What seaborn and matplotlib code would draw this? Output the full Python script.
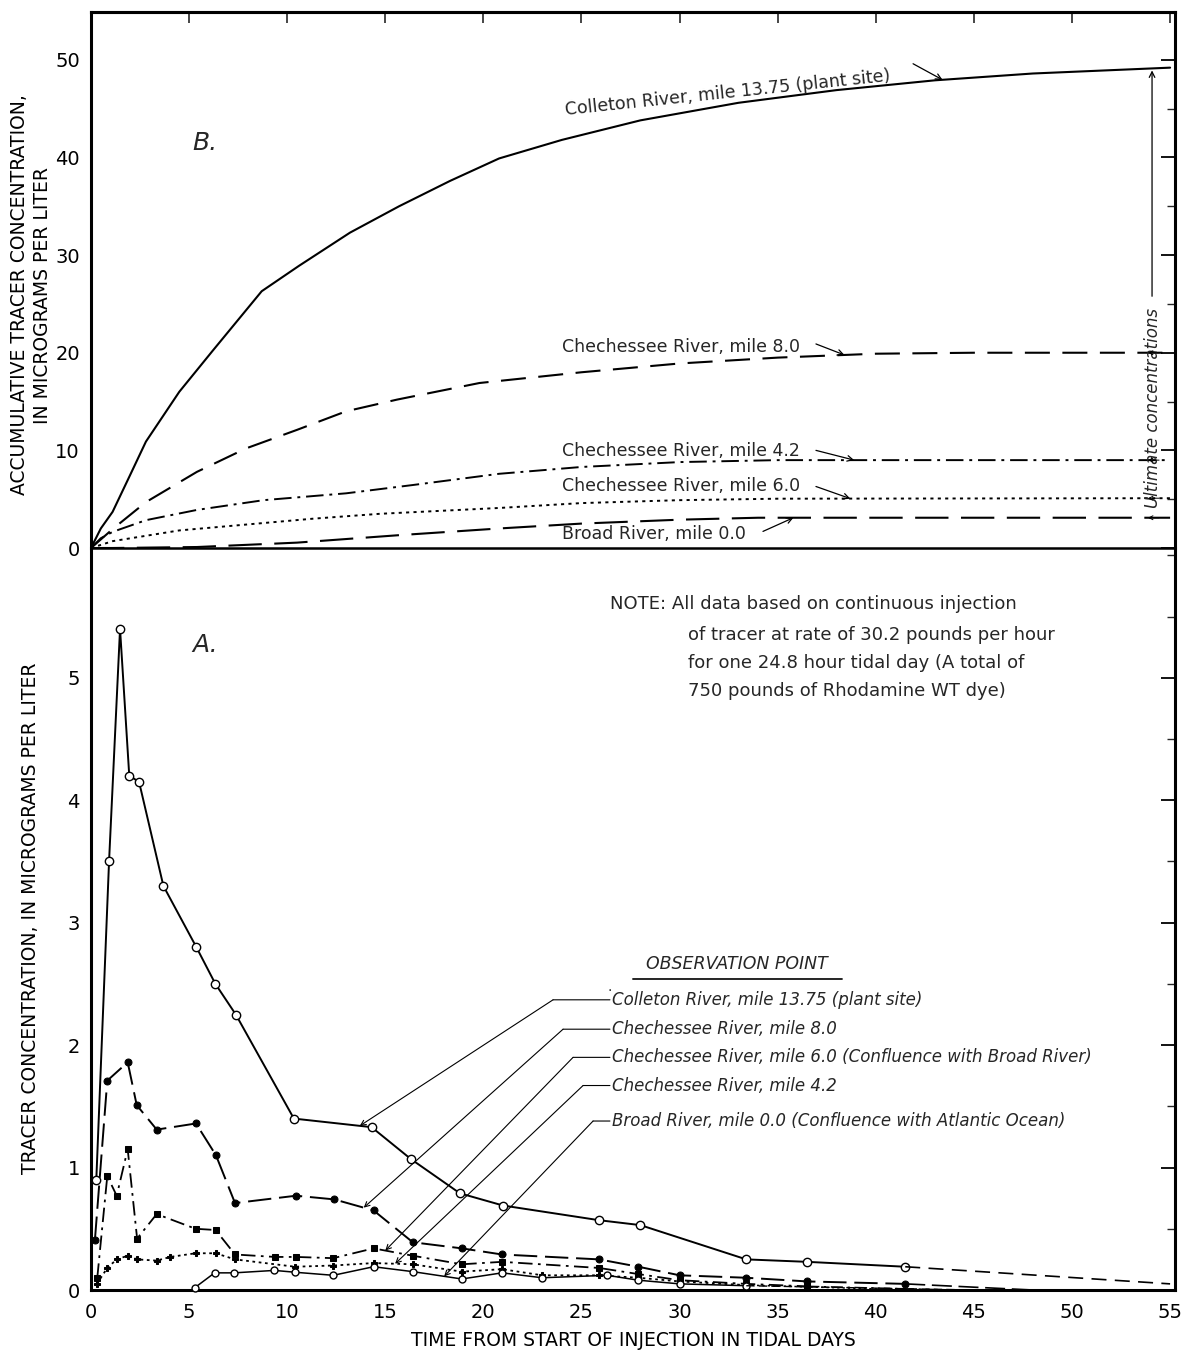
import numpy as np
import pandas as pd
import matplotlib
matplotlib.use("Agg")
import matplotlib.pyplot as plt
import seaborn as sns
from matplotlib.ticker import MultipleLocator

sns.set_theme(style="white")
plt.rcParams['font.family'] = ['DejaVu Sans']

# ---------------- Panel A (bottom): tracer concentration ----------------
colleton_days = [0.27, 0.92, 1.48, 1.95, 2.45, 3.69, 5.37, 6.34, 7.38, 10.34, 14.3, 16.3, 18.8, 21.0, 25.9, 28.0, 33.4, 36.5, 41.5]
colleton_conc = [0.90, 3.50, 5.40, 4.20, 4.15, 3.30, 2.80, 2.50, 2.25, 1.40, 1.33, 1.07, 0.79, 0.69, 0.57, 0.53, 0.25, 0.23, 0.19]
colleton_tail_days = [41.5, 55.0]
colleton_tail_conc = [0.19, 0.05]

chech80_days = [0.2, 0.83, 1.87, 2.33, 3.35, 5.35, 6.37, 7.34, 10.45, 12.4, 14.4, 16.4, 18.9, 20.95, 25.9, 27.9, 30.0, 33.4, 36.5, 41.5]
chech80_conc = [0.41, 1.71, 1.86, 1.51, 1.31, 1.36, 1.10, 0.71, 0.77, 0.74, 0.65, 0.39, 0.34, 0.29, 0.25, 0.19, 0.12, 0.10, 0.07, 0.05]
chech80_tail_days = [41.5, 48.0]
chech80_tail_conc = [0.05, 0.0]

chech60_days = [0.32, 0.83, 1.31, 1.87, 2.35, 3.35, 5.33, 6.35, 7.34, 9.38, 10.45, 12.35, 14.4, 16.4, 18.9, 20.95, 25.9, 27.9, 30.0, 33.4, 36.5]
chech60_conc = [0.10, 0.93, 0.77, 1.15, 0.42, 0.62, 0.50, 0.49, 0.29, 0.27, 0.27, 0.26, 0.34, 0.28, 0.21, 0.23, 0.18, 0.13, 0.08, 0.05, 0.03]
chech60_tail_days = [36.5, 44.0]
chech60_tail_conc = [0.03, 0.0]

chech42_days = [0.3, 0.83, 1.31, 1.87, 2.35, 3.35, 4.04, 5.33, 6.35, 7.34, 10.4, 12.35, 14.4, 16.4, 18.9, 20.95, 23.0, 25.9, 27.9, 30.0, 33.4]
chech42_conc = [0.05, 0.18, 0.25, 0.28, 0.25, 0.24, 0.27, 0.30, 0.30, 0.25, 0.19, 0.20, 0.22, 0.21, 0.15, 0.17, 0.12, 0.12, 0.10, 0.07, 0.04]
chech42_tail_days = [33.4, 42.0]
chech42_tail_conc = [0.04, 0.0]

broad_days = [5.3, 6.3, 7.3, 9.35, 10.4, 12.35, 14.4, 16.4, 18.9, 20.95, 23.0, 26.3, 27.9, 30.0, 33.4]
broad_conc = [0.02, 0.14, 0.14, 0.16, 0.145, 0.12, 0.19, 0.15, 0.09, 0.14, 0.10, 0.12, 0.08, 0.05, 0.035]
broad_tail_days = [33.4, 45.0]
broad_tail_conc = [0.035, 0.0]

# ---------------- Panel B (top): accumulative concentration ----------------
cum_colleton_days = [0, 0.5, 1.1, 2.0, 2.8, 4.5, 6.2, 8.7, 10.6, 13.2, 15.7, 18.3, 20.8, 24, 28, 33, 38, 43, 48, 55]
cum_colleton_conc = [0, 2.0, 3.7, 7.5, 10.9, 16.0, 20.2, 26.3, 28.9, 32.3, 35.0, 37.6, 39.9, 41.8, 43.8, 45.6, 46.9, 47.9, 48.6, 49.2]
cum_chech80_days = [0, 1.14, 2.8, 5.4, 7.9, 10.5, 13.0, 15.6, 19.8, 25, 30, 35, 40, 45, 55]
cum_chech80_conc = [0, 2.0, 4.7, 7.8, 10.2, 12.1, 14.0, 15.2, 16.9, 18.0, 18.9, 19.5, 19.9, 20.0, 20.0]
cum_chech42_days = [0, 0.5, 1.1, 2.8, 5.4, 8.8, 13.0, 16.4, 20.8, 25, 30, 35, 55]
cum_chech42_conc = [0, 1.0, 1.65, 2.85, 3.9, 4.9, 5.6, 6.45, 7.6, 8.3, 8.8, 9.0, 9.0]
cum_chech60_days = [0, 1.1, 4.5, 7.9, 11.3, 14.7, 20.8, 25, 30, 35, 55]
cum_chech60_conc = [0, 0.7, 1.8, 2.4, 3.0, 3.5, 4.1, 4.6, 4.9, 5.05, 5.1]
cum_broad_days = [0, 1.1, 5.4, 10.5, 15.6, 20.8, 25, 30, 34, 55]
cum_broad_conc = [0, 0.0, 0.1, 0.55, 1.3, 2.0, 2.5, 2.9, 3.1, 3.1]

x_ticks = list(range(0, 56, 5))
top_y_ticks = [0, 10, 20, 30, 40, 50]
bot_y_ticks = [0, 1, 2, 3, 4, 5]

# long-form tables
def frame(name, d, c):
    return pd.DataFrame({"series": name, "day": d, "conc": c})

dfA = pd.concat([
    frame("colleton", colleton_days, colleton_conc),
    frame("colleton_tail", colleton_tail_days, colleton_tail_conc),
    frame("chech80", chech80_days, chech80_conc),
    frame("chech80_tail", chech80_tail_days, chech80_tail_conc),
    frame("chech60", chech60_days, chech60_conc),
    frame("chech60_tail", chech60_tail_days, chech60_tail_conc),
    frame("chech42", chech42_days, chech42_conc),
    frame("chech42_tail", chech42_tail_days, chech42_tail_conc),
    frame("broad", broad_days, broad_conc),
    frame("broad_tail", broad_tail_days, broad_tail_conc),
], ignore_index=True)

dfB = pd.concat([
    frame("colleton", cum_colleton_days, cum_colleton_conc),
    frame("chech80", cum_chech80_days, cum_chech80_conc),
    frame("chech42", cum_chech42_days, cum_chech42_conc),
    frame("chech60", cum_chech60_days, cum_chech60_conc),
    frame("broad", cum_broad_days, cum_broad_conc),
], ignore_index=True)

K = "black"
fig = plt.figure(figsize=(11.91, 13.57), dpi=100)
L, R = 91 / 1191, 1175 / 1191
ax_bot = fig.add_axes([L, 1 - 1290 / 1357, R - L, (1290 - 548) / 1357])
ax_top = fig.add_axes([L, 1 - 548 / 1357, R - L, (548 - 12) / 1357])
ax_top.set_zorder(3)

# ---------------- bottom panel lines ----------------
styleA = {
    "colleton": dict(linestyle="-", lw=1.4, marker="o", ms=6, mfc="white", mec=K, mew=1.0),
    "colleton_tail": dict(linestyle=(0, (9, 5)), lw=1.2),
    "chech80": dict(linestyle=(0, (12, 4)), lw=1.4, marker="o", ms=5, mfc=K, mec=K),
    "chech80_tail": dict(linestyle=(0, (12, 4)), lw=1.2),
    "chech60": dict(linestyle=(0, (8, 3, 1.5, 3)), lw=1.3, marker="s", ms=4.5, mfc=K, mec=K),
    "chech60_tail": dict(linestyle=(0, (8, 3, 1.5, 3)), lw=1.1),
    "chech42": dict(linestyle=(0, (1.5, 2)), lw=1.3, marker="P", ms=5, mfc=K, mec=K),
    "chech42_tail": dict(linestyle=(0, (1.5, 2)), lw=1.1),
    "broad": dict(linestyle="-", lw=1.1, marker="o", ms=5, mfc="white", mec=K, mew=1.0),
    "broad_tail": dict(linestyle=(0, (6, 3)), lw=1.0),
}
for name, st in styleA.items():
    sub = dfA[dfA.series == name]
    sns.lineplot(data=sub, x="day", y="conc", ax=ax_bot, color=K, errorbar=None,
                 legend=False, clip_on=False, zorder=3, **st)

# ---------------- top panel lines ----------------
styleB = {
    "colleton": dict(linestyle="-", lw=1.5),
    "chech80": dict(linestyle=(0, (12, 6)), lw=1.5),
    "chech42": dict(linestyle=(0, (9, 3, 1.5, 3)), lw=1.4),
    "chech60": dict(linestyle=(0, (1.6, 2.2)), lw=1.4),
    "broad": dict(linestyle=(0, (16, 6)), lw=1.5),
}
for name, st in styleB.items():
    sub = dfB[dfB.series == name]
    sns.lineplot(data=sub, x="day", y="conc", ax=ax_top, color=K, errorbar=None,
                 legend=False, zorder=3, **st)

# ---------------- axes formatting ----------------
for ax in (ax_top, ax_bot):
    ax.set_xlim(0, 55.25)
    ax.set_xlabel("")
    ax.set_ylabel("")
    for s in ax.spines.values():
        s.set_color(K)
        s.set_linewidth(2.2)
        s.set_visible(True)
    ax.set_facecolor("white")

ax_bot.set_ylim(0, 6.06)
ax_bot.set_xticks(x_ticks)
ax_bot.xaxis.set_minor_locator(MultipleLocator(1))
ax_bot.set_yticks(bot_y_ticks)
ax_bot.yaxis.set_minor_locator(MultipleLocator(0.5))
ax_bot.tick_params(axis="both", which="major", direction="in", length=10, width=1.3,
                   labelsize=14, colors=K, right=True, top=False)
ax_bot.tick_params(axis="both", which="minor", direction="in", length=6, width=1.0,
                   right=True, top=False)
ax_bot.tick_params(axis="x", pad=9)
ax_bot.tick_params(axis="y", pad=8)
ax_bot.spines["top"].set_visible(False)

ax_top.patch.set_alpha(0)
ax_top.set_ylim(0, 54.9)
ax_top.set_xticks(x_ticks)
ax_top.set_yticks(top_y_ticks)
ax_top.yaxis.set_minor_locator(MultipleLocator(5))
ax_top.spines["bottom"].set_linewidth(1.8)
ax_top.tick_params(axis="x", which="major", direction="inout", length=10, width=1.2,
                   labelbottom=False, top=False)
ax_top.tick_params(axis="y", which="major", direction="in", length=10, width=1.3,
                   labelsize=14, colors=K, right=True, pad=8)
ax_top.tick_params(axis="y", which="minor", direction="in", length=6, width=1.0, right=True)
sec = ax_top.secondary_xaxis("top")
sec.set_xticks(x_ticks)
sec.tick_params(direction="in", length=8, width=1.2, labeltop=False)
sec.spines["top"].set_linewidth(2.2)

# ---------------- axis titles ----------------
fig.text(31 / 1191, 1 - 295 / 1357,
         "ACCUMULATIVE TRACER CONCENTRATION,\nIN MICROGRAMS PER LITER",
         rotation=90, ha="center", va="center", fontsize=13.5, linespacing=1.25, color=K)
fig.text(31 / 1191, 1 - 918 / 1357, "TRACER CONCENTRATION, IN MICROGRAMS PER LITER",
         rotation=90, ha="center", va="center", fontsize=13.5, color=K)
fig.text(633 / 1191, 1 - 1340 / 1357, "TIME FROM START OF INJECTION IN TIDAL DAYS",
         ha="center", va="center", fontsize=13.5, color=K)

# ---------------- top panel annotations ----------------
ax_top.text(5.81, 41.5, "B.", fontsize=18, style="italic", ha="center", va="center")
arrow_kw = dict(arrowstyle="->", lw=0.9, color=K, shrinkA=0, shrinkB=0,
                mutation_scale=10)
ax_top.text(24.2, 44.3, "Colleton River, mile 13.75 (plant site)", fontsize=12.5,
            rotation=6, rotation_mode="anchor", ha="left", va="baseline")
tip = 43.4
ax_top.annotate("", xy=(tip, np.interp(tip, cum_colleton_days, cum_colleton_conc)),
                xytext=(41.9, 49.6), arrowprops=arrow_kw)

labels_B = [
    ("Chechessee River, mile 8.0", 20.6, 36.95, 20.9, 38.4, cum_chech80_days, cum_chech80_conc),
    ("Chechessee River, mile 4.2", 9.95, 36.95, 10.0, 38.9, cum_chech42_days, cum_chech42_conc),
    ("Chechessee River, mile 6.0", 6.3, 36.95, 6.3, 38.7, cum_chech60_days, cum_chech60_conc),
    ("Broad River, mile 0.0", 1.45, 34.25, 1.7, 35.8, cum_broad_days, cum_broad_conc),
]
for txt, ty, ax0, ay0, tx, dd, cc in labels_B:
    ax_top.text(24.0, ty, txt, fontsize=12.5, ha="left", va="center")
    ax_top.annotate("", xy=(tx, np.interp(tx, dd, cc)), xytext=(ax0, ay0), arrowprops=arrow_kw)

ult_x = 54.08
ax_top.annotate("", xy=(ult_x, cum_colleton_conc[-1]), xytext=(ult_x, 25.5),
                arrowprops=dict(arrowstyle="->", lw=0.9, color=K, mutation_scale=10))
ax_top.text(ult_x + 0.05, 14.3, "Ultimate concentrations", rotation=90, fontsize=12,
            style="italic", ha="center", va="center")
for dd, cc in [(cum_chech80_days, cum_chech80_conc), (cum_chech42_days, cum_chech42_conc),
               (cum_chech60_days, cum_chech60_conc), (cum_broad_days, cum_broad_conc)]:
    ax_top.annotate("", xy=(ult_x - 0.35, cc[-1]), xytext=(ult_x + 0.5, cc[-1]),
                    arrowprops=dict(arrowstyle="->", lw=0.7, color=K, mutation_scale=7))

# ---------------- bottom panel annotations ----------------
ax_bot.text(5.81, 5.27, "A.", fontsize=18, style="italic", ha="center", va="center")
note_kw = dict(fontsize=13, ha="left", va="center")
ax_bot.text(26.45, 5.60, "NOTE: All data based on continuous injection", **note_kw)
ax_bot.text(30.43, 5.35, "of tracer at rate of 30.2 pounds per hour", **note_kw)
ax_bot.text(30.43, 5.12, "for one 24.8 hour tidal day (A total of", **note_kw)
ax_bot.text(30.43, 4.89, "750 pounds of Rhodamine WT dye)", **note_kw)

ax_bot.text(32.93, 2.66, "OBSERVATION POINT", fontsize=12.5, style="italic",
            ha="center", va="center")
ax_bot.annotate("", xy=(38.28, 2.54), xytext=(27.62, 2.54),
                arrowprops=dict(arrowstyle="-", lw=1.2, color=K, shrinkA=0, shrinkB=0))
ax_bot.text(26.45, 2.475, ".", fontsize=10, ha="center", va="center")

legend_rows = [
    ("Colleton River, mile 13.75 (plant site)", 2.37, 23.55, 13.7, colleton_days, colleton_conc),
    ("Chechessee River, mile 8.0", 2.13, 24.06, 13.9, chech80_days, chech80_conc),
    ("Chechessee River, mile 6.0 (Confluence with Broad River)", 1.90, 24.57, 15.0, chech60_days, chech60_conc),
    ("Chechessee River, mile 4.2", 1.67, 25.08, 15.5, chech42_days, chech42_conc),
    ("Broad River, mile 0.0 (Confluence with Atlantic Ocean)", 1.38, 25.59, 18.0, broad_days, broad_conc),
]
for txt, ry, ex, tx, dd, cc in legend_rows:
    ax_bot.text(26.55, ry, txt, fontsize=12, style="italic", ha="left", va="center")
    ax_bot.annotate("", xy=(ex, ry), xytext=(26.45, ry),
                    arrowprops=dict(arrowstyle="-", lw=0.8, color=K, shrinkA=0, shrinkB=0))
    ax_bot.annotate("", xy=(tx, np.interp(tx, dd, cc)), xytext=(ex, ry),
                    arrowprops=dict(arrowstyle="->", lw=0.8, color=K, shrinkA=0, shrinkB=0,
                                    mutation_scale=9))

fig.savefig("out.png", dpi=100, facecolor="white")
